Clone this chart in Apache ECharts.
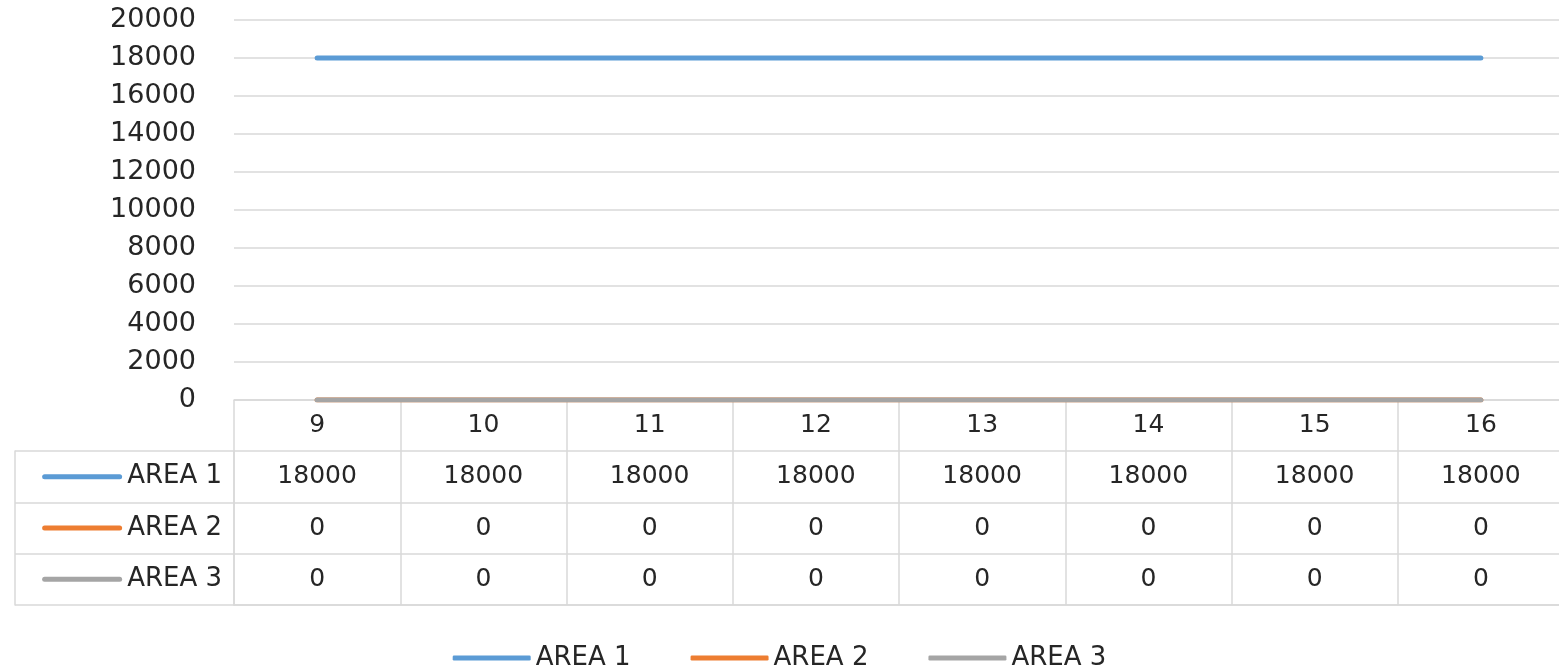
<!DOCTYPE html>
<html>
<head>
<meta charset="utf-8">
<title>AREA 1 / AREA 2 / AREA 3</title>
<script src="https://cdn.jsdelivr.net/npm/echarts@6/dist/echarts.min.js"></script>
<style>
  html, body { margin: 0; padding: 0; background: #fff; }
  #chart { width: 1559px; height: 667px; }
</style>
</head>
<body>
<div id="chart"></div>
<script>
// Hours along the x axis
const categories = ['9', '10', '11', '12', '13', '14', '15', '16'];
// Series names and values
const seriesNames = ['AREA 1', 'AREA 2', 'AREA 3'];
const area1 = [18000, 18000, 18000, 18000, 18000, 18000, 18000, 18000];
const area2 = [0, 0, 0, 0, 0, 0, 0, 0];
const area3 = [0, 0, 0, 0, 0, 0, 0, 0];
const seriesValues = [area1, area2, area3];
const colors = ['#5B9BD5', '#ED7D31', '#A5A5A5'];

const FONT = 'DejaVu Sans';
const TEXT = '#262626';
const RULE = '#d9d9d9';

// Cells of the data table under the plot: [hour, series name, value]
const tableCells = [];
seriesValues.forEach((vals, s) => {
  vals.forEach((v, j) => tableCells.push([categories[j], seriesNames[s], v]));
});

// Rich styles for the row headers: a short coloured line followed by the name
const rowRich = { t: { fontFamily: FONT, fontSize: 26, color: TEXT, padding: [0, 0, 0, 5] } };
colors.forEach((c, i) => {
  rowRich['k' + i] = { width: 80, height: 5, backgroundColor: c, borderRadius: 3 };
});

const chart = echarts.init(document.getElementById('chart'), null, { renderer: 'canvas' });

chart.setOption({
  animation: false,
  backgroundColor: '#ffffff',
  textStyle: { fontFamily: FONT },
  grid: [
    { left: 234, width: 1330, top: 20, height: 380, outerBoundsMode: 'none' },
    { left: 234, width: 1330, top: 451, height: 154, outerBoundsMode: 'none' }
  ],
  legend: {
    data: seriesNames,
    left: 'center',
    top: 640,
    icon: 'roundRect',
    itemWidth: 78,
    itemHeight: 5,
    itemGap: 60,
    selectedMode: false,
    textStyle: { fontFamily: FONT, fontSize: 26, color: TEXT }
  },
  xAxis: [
    {
      gridIndex: 0,
      type: 'category',
      data: categories,
      boundaryGap: true,
      axisLine: { show: true, lineStyle: { color: RULE, width: 1.5 } },
      axisTick: { show: true, length: 51, lineStyle: { color: RULE, width: 1.5 } },
      axisLabel: { fontFamily: FONT, fontSize: 25, color: TEXT, margin: 13 },
      splitLine: { show: false }
    },
    {
      gridIndex: 1,
      type: 'category',
      data: categories,
      boundaryGap: true,
      axisLine: { show: true, lineStyle: { color: RULE, width: 1.5 } },
      axisTick: { show: false },
      axisLabel: { show: false },
      splitLine: { show: true, lineStyle: { color: RULE, width: 1.5 } }
    }
  ],
  yAxis: [
    {
      gridIndex: 0,
      type: 'value',
      min: 0,
      max: 20000,
      interval: 2000,
      axisLine: { show: false },
      axisTick: { show: false },
      axisLabel: {
        fontFamily: FONT, fontSize: 27, color: TEXT, margin: 38,
        formatter: (v) => String(v)
      },
      splitLine: { show: true, lineStyle: { color: RULE, width: 1.5 } }
    },
    {
      gridIndex: 1,
      type: 'category',
      data: seriesNames,
      inverse: true,
      boundaryGap: true,
      axisLine: { show: true, lineStyle: { color: RULE, width: 1.5 } },
      axisTick: { show: true, length: 219, lineStyle: { color: RULE, width: 1.5 } },
      axisLabel: {
        margin: 12,
        formatter: (name) => '{k' + seriesNames.indexOf(name) + '|}{t|' + name + '}',
        rich: rowRich
      },
      splitLine: { show: true, lineStyle: { color: RULE, width: 1.5 } }
    },
    {
      // outer left border of the table
      gridIndex: 1,
      type: 'category',
      data: seriesNames,
      inverse: true,
      position: 'left',
      offset: 219,
      axisLine: { show: true, lineStyle: { color: RULE, width: 1.5 } },
      axisTick: { show: false },
      axisLabel: { show: false },
      splitLine: { show: false }
    }
  ],
  series: seriesNames.map((name, i) => ({
    name: name,
    type: 'line',
    xAxisIndex: 0,
    yAxisIndex: 0,
    data: seriesValues[i],
    symbol: 'none',
    color: colors[i],
    lineStyle: { width: 5, color: colors[i], cap: 'round' },
    silent: true,
    z: 3 + i
  })).concat([{
    name: 'table',
    type: 'scatter',
    xAxisIndex: 1,
    yAxisIndex: 1,
    data: tableCells,
    symbolSize: 0,
    itemStyle: { color: '#ffffff', opacity: 1 },
    silent: true,
    label: {
      show: true,
      position: 'inside',
      formatter: (p) => String(p.value[2]),
      fontFamily: FONT,
      fontSize: 25,
      color: TEXT,
      opacity: 1,
      textBorderWidth: 0
    }
  }])
});
</script>
</body>
</html>
